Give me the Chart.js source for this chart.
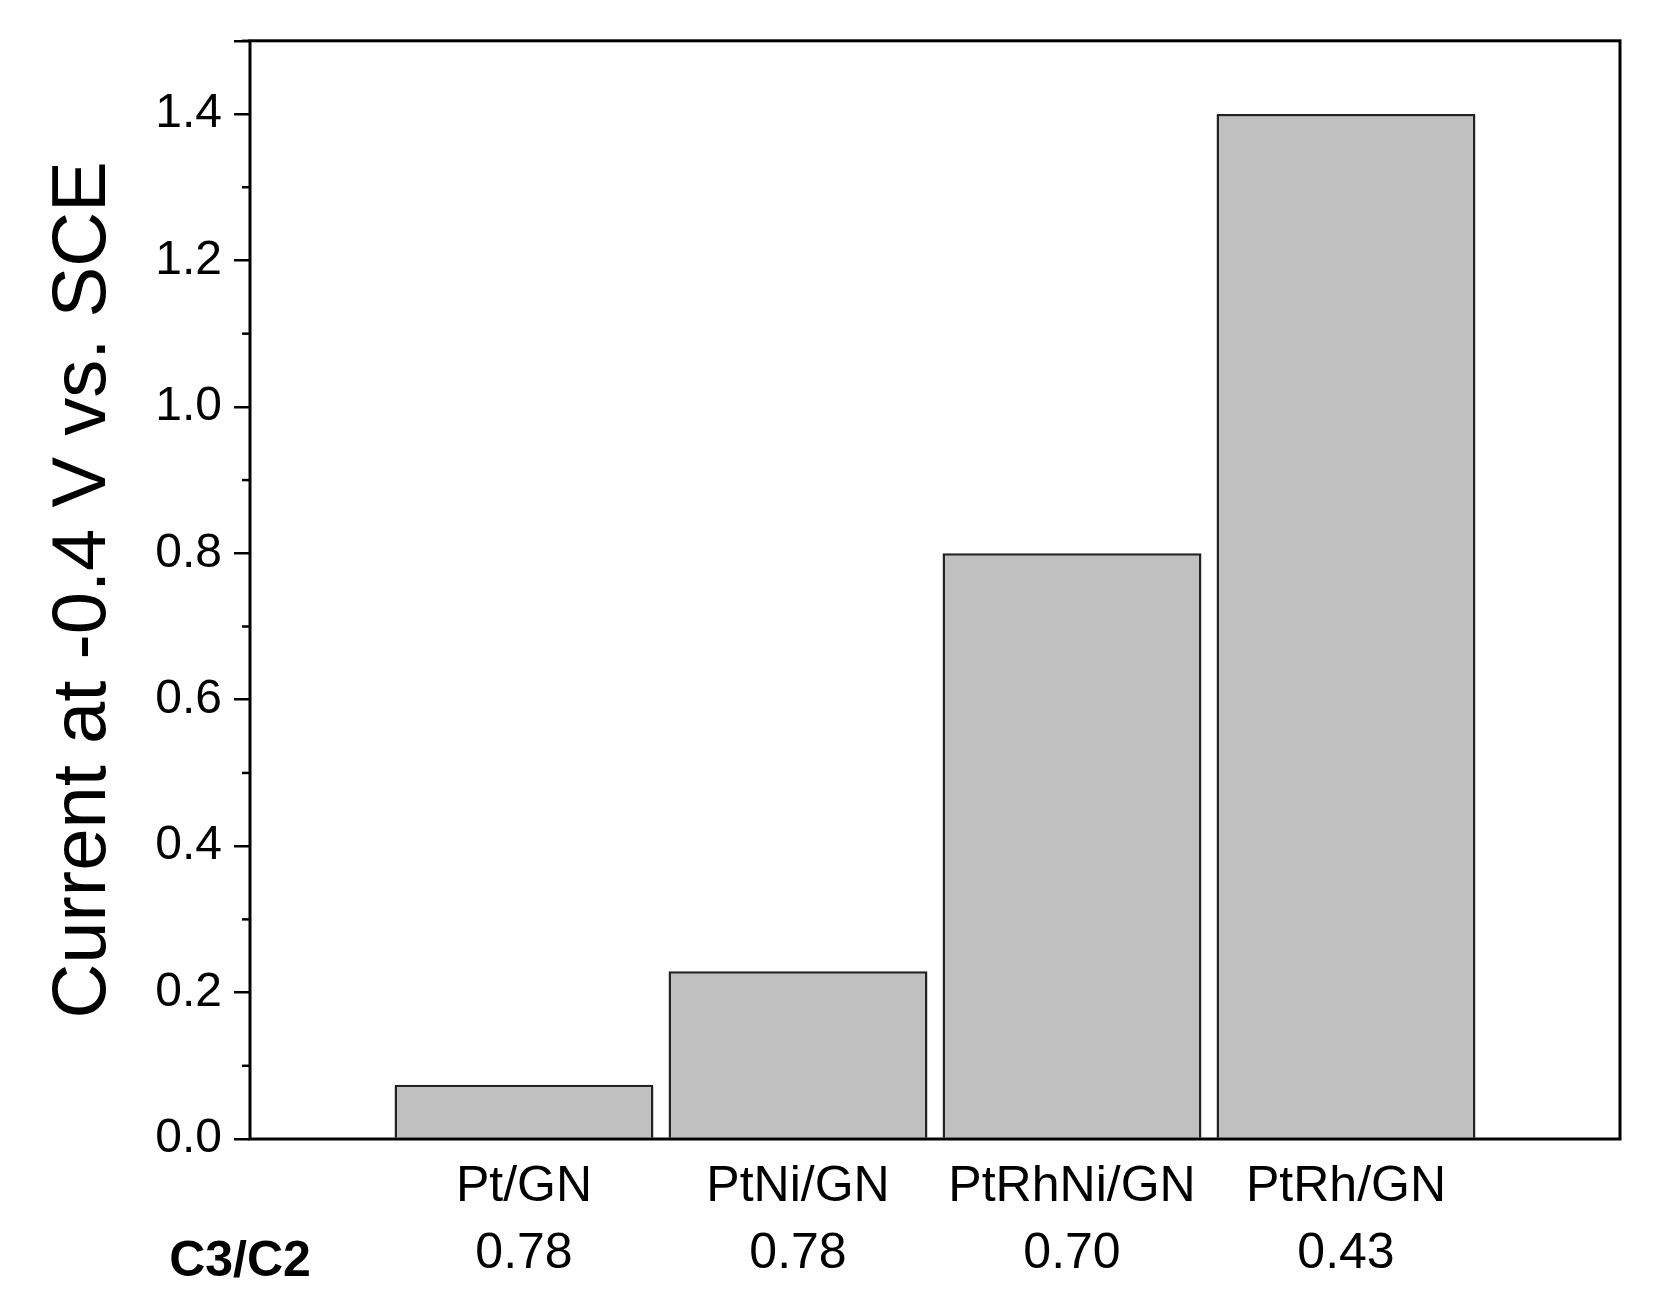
<!DOCTYPE html>
<html>
<head>
<meta charset="utf-8">
<script src="https://cdn.jsdelivr.net/npm/chart.js@4"></script>
<style>
  html, body { margin: 0; padding: 0; background: #fff; }
  #wrap { width: 1655px; height: 1303px; }
</style>
</head>
<body>
<div id="wrap"><canvas id="chart"></canvas></div>
<script>
const catalysts = ['Pt/GN', 'PtNi/GN', 'PtRhNi/GN', 'PtRh/GN'];
const ratios = ['0.78', '0.78', '0.70', '0.43'];
const currents = [0.074, 0.229, 0.8, 1.4];
const positions = [1, 2, 3, 4];

const FONT = '"Liberation Sans", Arial, sans-serif';

// frame, minor y ticks and the C3/C2 row label
const extras = {
  id: 'extras',
  afterDraw(chart) {
    const { ctx, chartArea: a, scales } = chart;
    ctx.save();
    ctx.strokeStyle = '#000';
    ctx.lineWidth = 3;
    ctx.strokeRect(a.left, a.top, a.right - a.left, a.bottom - a.top);
    ctx.lineWidth = 2.5;
    for (let v = 0.1; v < 1.55; v += 0.2) {
      const y = scales.y.getPixelForValue(v);
      ctx.beginPath();
      ctx.moveTo(a.left - 8, y);
      ctx.lineTo(a.left, y);
      ctx.stroke();
    }
    ctx.fillStyle = '#000';
    ctx.font = 'bold 50px ' + FONT;
    ctx.textAlign = 'center';
    ctx.textBaseline = 'middle';
    ctx.fillText('C3/C2', 240, 1262);
    ctx.restore();
  }
};

new Chart(document.getElementById('chart'), {
  type: 'bar',
  data: {
    datasets: [{
      data: positions.map((x, i) => ({ x, y: currents[i] })),
      backgroundColor: '#c0c0c0',
      borderColor: '#222',
      borderWidth: 2.5,
      barPercentage: 0.945,
      categoryPercentage: 1,
    }]
  },
  options: {
    responsive: true, maintainAspectRatio: false, animation: false,
    layout: { padding: { top: 32, right: 35, left: 0, bottom: 0 } },
    plugins: { legend: { display: false }, tooltip: { enabled: false } },
    scales: {
      x: {
        type: 'linear', min: 0, max: 5, offset: false,
        afterBuildTicks: s => { s.ticks = positions.map(v => ({ value: v })); },
        afterFit: s => { s.height = 1303 - 1139; },
        grid: { display: false, drawTicks: false },
        border: { display: false },
        ticks: {
          padding: 14,
          color: '#000',
          font: { family: FONT, size: 50, lineHeight: 1.35 },
          callback: v => [catalysts[v - 1], ratios[v - 1]],
        },
      },
      y: {
        min: 0, max: 1.5,
        afterFit: s => { s.width = 250; },
        grid: { drawOnChartArea: false, tickLength: 16, lineWidth: 2.5, color: '#000' },
        border: { display: false },
        ticks: {
          stepSize: 0.2,
          padding: 12,
          color: '#000',
          font: { family: FONT, size: 48 },
          callback: v => (Math.abs(v - 1.5) < 1e-6 ? '' : v.toFixed(1)),
        },
        title: {
          display: true,
          text: 'Current at -0.4 V vs. SCE',
          color: '#000',
          font: { family: FONT, size: 76 },
          padding: { top: 38, bottom: 0 },
        },
      },
    },
  },
  plugins: [extras],
});
</script>
</body>
</html>
